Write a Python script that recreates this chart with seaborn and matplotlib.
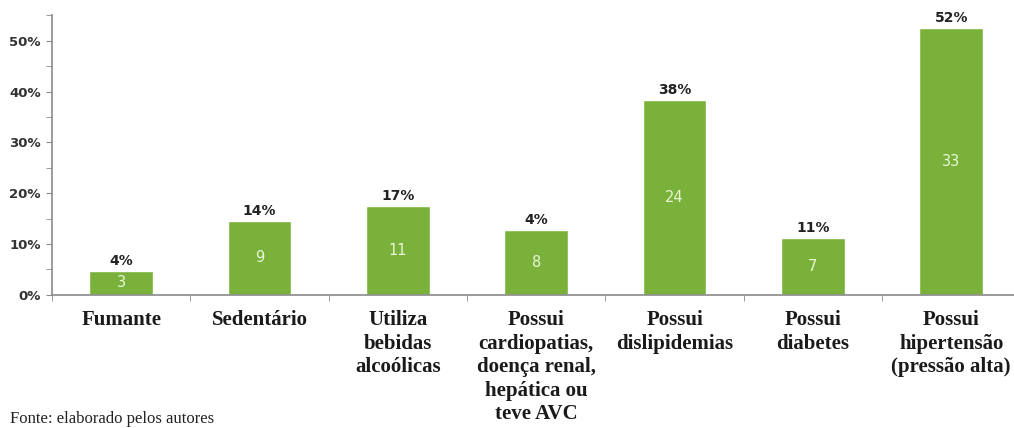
import matplotlib
matplotlib.use("Agg")
import matplotlib.pyplot as plt
import seaborn as sns
import pandas as pd
from matplotlib.ticker import MultipleLocator, FixedLocator

# dados
categorias = ["Fumante", "Sedentário", "Utiliza\nbebidas\nalcoólicas",
              "Possui\ncardiopatias,\ndoença renal,\nhepática ou\nteve AVC",
              "Possui\ndislipidemias", "Possui\ndiabetes",
              "Possui\nhipertensão\n(pressão alta)"]
percentual = [4.7, 14.6, 17.4, 12.7, 38.3, 11.2, 52.5]
rotulo_pct = ["4%", "14%", "17%", "4%", "38%", "11%", "52%"]
contagem = [3, 9, 11, 8, 24, 7, 33]

df = pd.DataFrame({"cat": categorias, "pct": percentual})

sns.set_style("white")
fig = plt.figure(figsize=(10.14, 4.28), dpi=100)
ax = fig.add_axes([0.0513, 0.311, 0.955, 0.654])

sns.barplot(data=df, x="cat", y="pct", color="#79b13a", saturation=1,
            width=0.46, ax=ax)

ax.set_ylim(0, 55.1)
ax.set_xlim(-0.5, 6.5)
ax.yaxis.set_major_locator(MultipleLocator(10))
ax.yaxis.set_minor_locator(MultipleLocator(5))
ax.set_yticklabels([f"{int(v)}%" for v in ax.get_yticks()])
ax.xaxis.set_minor_locator(FixedLocator([i + 0.5 for i in range(-1, 7)]))
ax.tick_params(axis="y", which="both", left=True, length=4, color="#8a8a8a",
               labelsize=9.5, labelcolor="#333333", pad=4)
ax.tick_params(axis="x", which="major", length=0, pad=11)
ax.tick_params(axis="x", which="minor", bottom=True, length=4, color="#8a8a8a")
for lab in ax.get_yticklabels():
    lab.set_fontweight("bold")
for lab in ax.get_xticklabels():
    lab.set_fontfamily("Liberation Serif")
    lab.set_fontweight("bold")
    lab.set_fontsize(15)
    lab.set_linespacing(1.23)
    lab.set_color("#1a1a1a")
    lab.set_verticalalignment("top")

for s in ["top", "right"]:
    ax.spines[s].set_visible(False)
for s in ["left", "bottom"]:
    ax.spines[s].set_color("#8a8a8a")
    ax.spines[s].set_linewidth(1.2)

ax.set_xlabel("")
ax.set_ylabel("")

for i, p in enumerate(ax.patches):
    h = p.get_height()
    x = p.get_x() + p.get_width() / 2
    ax.text(x, h + 0.6, rotulo_pct[i], ha="center", va="bottom",
            fontsize=10, fontweight="bold", color="#222222")
    ax.text(x, h / 2, str(contagem[i]), ha="center", va="center",
            fontsize=10.5, color="#eaf6d8")

fig.text(0.01, 0.003, "Fonte: elaborado pelos autores", fontsize=12,
         fontfamily="Liberation Serif", color="#222222", va="bottom")

fig.savefig("out.png", dpi=100)
